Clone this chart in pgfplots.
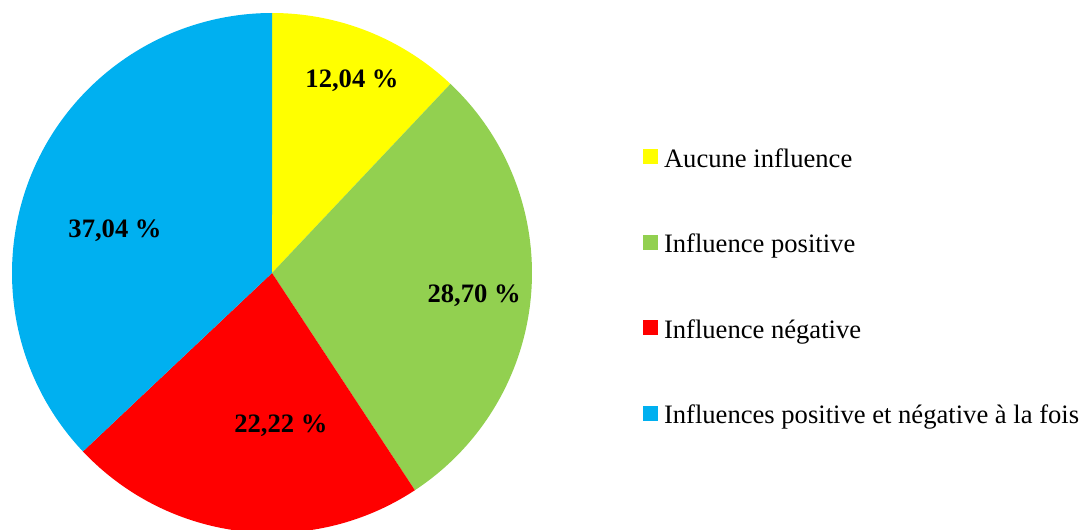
\documentclass[border=0pt]{standalone}
\usepackage{fontspec}
\setmainfont{Liberation Serif}
\usepackage{pgfplots}
\pgfplotsset{compat=1.18}
\usepgfplotslibrary{polar}

\definecolor{cYellow}{HTML}{FFFF00}
\definecolor{cGreen}{HTML}{92D050}
\definecolor{cRed}{HTML}{FF0000}
\definecolor{cBlue}{HTML}{00B0F0}

% shares in percent, slices run clockwise from the top
\def\pA{12.04}
\def\pB{28.70}
\def\pC{22.22}
\def\pD{37.04}
\pgfmathsetmacro\aA{90}
\pgfmathsetmacro\aB{\aA-3.6*\pA}
\pgfmathsetmacro\aC{\aB-3.6*\pB}
\pgfmathsetmacro\aD{\aC-3.6*\pC}
\pgfmathsetmacro\aE{\aD-3.6*\pD}

\begin{document}
\begin{tikzpicture}
\useasboundingbox (0,0) rectangle (541pt,265pt);
\begin{polaraxis}[
    hide axis,
    scale only axis,
    width=260pt, height=260pt,
    ymin=0, ymax=1,
    clip=false,
    at={(136pt,128.5pt)}, anchor=center,
    legend style={at={(1.2135,0.742)}, anchor=north west,
        draw=none, fill=none, inner sep=0pt, outer sep=0pt,
        row sep=29.75pt, column sep=3pt,
        font=\fontsize{13.3pt}{15pt}\selectfont,
        nodes={inner sep=0pt, text height=10pt, text depth=3pt}},
    legend cell align=left,
    legend image code/.code={\fill (0pt,-2pt) rectangle (7.5pt,5.5pt);},
]
\addplot[draw=none, fill=cYellow] coordinates {(0,0) (\aA,1)}
    arc[start angle=\aA, end angle=\aB, radius=130pt] -- cycle;
\addlegendentry{Aucune influence}
\addplot[draw=none, fill=cGreen] coordinates {(0,0) (\aB,1)}
    arc[start angle=\aB, end angle=\aC, radius=130pt] -- cycle;
\addlegendentry{Influence positive}
\addplot[draw=none, fill=cRed] coordinates {(0,0) (\aC,1)}
    arc[start angle=\aC, end angle=\aD, radius=130pt] -- cycle;
\addlegendentry{Influence négative}
\addplot[draw=none, fill=cBlue] coordinates {(0,0) (\aD,1)}
    arc[start angle=\aD, end angle=\aE, radius=130pt] -- cycle;
\addlegendentry{Influences positive et négative à la fois}

% value labels
\addplot[forget plot, only marks, mark=none,
    point meta=explicit symbolic,
    nodes near coords,
    nodes near coords style={anchor=center, inner sep=0pt, yshift=-1.5pt,
        font=\bfseries\fontsize{13.3pt}{15pt}\selectfont}]
    coordinates {
    (67.7,0.811) [12,04 \%]
    (-5.65,0.781) [28,70 \%]
    (-86.6,0.578) [22,22 \%]
    (164.0,0.628) [37,04 \%]
};
\end{polaraxis}
\end{tikzpicture}
\end{document}
